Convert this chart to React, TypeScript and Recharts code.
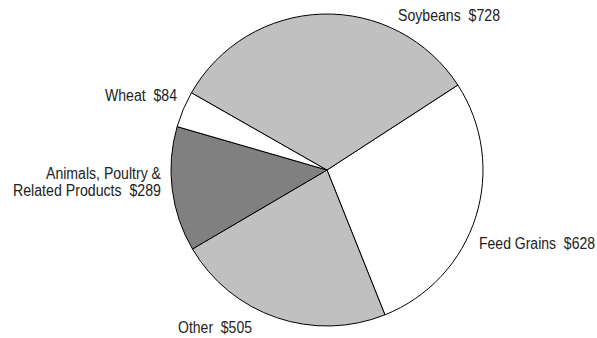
import { PieChart, Pie, Cell } from 'recharts';

// values in millions of dollars, listed clockwise from the Soybeans/Feed Grains edge
const categories = ['Feed Grains', 'Other', 'Animals, Poultry & Related Products', 'Wheat', 'Soybeans'];
const values = [628, 505, 289, 84, 728];
const fills = ['#ffffff', '#c0c0c0', '#808080', '#ffffff', '#c0c0c0'];

// label text lines per slice
const labelLines: Record<string, string[]> = {
  'Feed Grains': ['Feed Grains  $628'],
  Other: ['Other  $505'],
  'Animals, Poultry & Related Products': ['Animals, Poultry &', 'Related Products  $289'],
  Wheat: ['Wheat  $84'],
  Soybeans: ['Soybeans  $728'],
};

// where each label sits (hand placed, like the original); widths squeeze the text to a narrow face
const labelPos: Record<string, { x: number; y: number; anchor: 'start' | 'end'; widths: number[] }> = {
  'Feed Grains': { x: 479, y: 249, anchor: 'start', widths: [116] },
  Other: { x: 178, y: 333, anchor: 'start', widths: [74] },
  'Animals, Poultry & Related Products': { x: 161, y: 179, anchor: 'end', widths: [115, 148] },
  Wheat: { x: 177, y: 101, anchor: 'end', widths: [72] },
  Soybeans: { x: 398, y: 21, anchor: 'start', widths: [102] },
};

const data = categories.map((name, i) => ({ name, value: values[i] }));

const FONT = '"Liberation Sans", Arial, sans-serif';

const renderLabel = (props: { name: string }) => {
  const pos = labelPos[props.name];
  const lines = labelLines[props.name];
  return (
    <g key={props.name}>
      {lines.map((line, i) => (
        <text
          key={i}
          x={pos.x}
          y={pos.y + i * 17}
          textAnchor={pos.anchor}
          fill="#222"
          fontSize={16}
          fontFamily={FONT}
          textLength={pos.widths[i]}
          lengthAdjust="spacingAndGlyphs"
          style={{ whiteSpace: 'pre' }}
        >
          {line}
        </text>
      ))}
    </g>
  );
};

export default function App() {
  return (
    <div style={{ position: 'absolute', left: 0, top: 0, background: '#fff' }}>
      <PieChart width={597} height={338} margin={{ top: 0, right: 0, bottom: 0, left: 0 }}>
        <Pie
          data={data}
          dataKey="value"
          nameKey="name"
          cx={327}
          cy={170}
          outerRadius={156}
          startAngle={33}
          endAngle={-327}
          stroke="#000"
          strokeWidth={1}
          label={renderLabel}
          labelLine={false}
          isAnimationActive={false}
        >
          {data.map((d, i) => (
            <Cell key={d.name} fill={fills[i]} />
          ))}
        </Pie>
      </PieChart>
    </div>
  );
}
